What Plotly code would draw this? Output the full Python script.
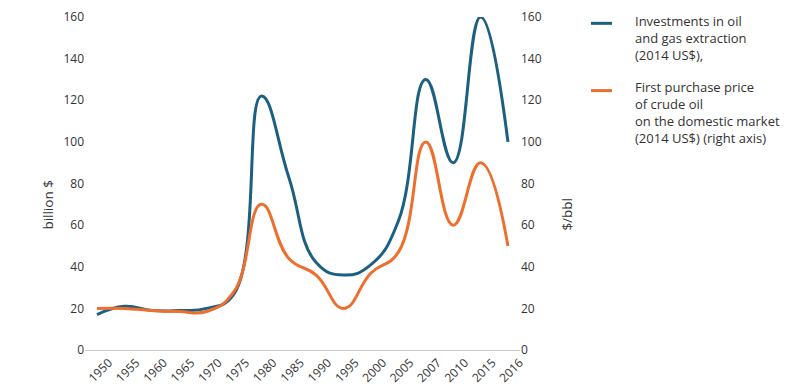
import plotly.graph_objects as go

years = ["1950", "1955", "1960", "1965", "1970", "1975", "1980", "1985",
         "1990", "1995", "2000", "2005", "2007", "2010", "2015", "2016"]
investments = [17, 21, 19, 19, 20, 27, 122, 83, 42, 36, 41, 62, 130, 90, 160, 100]
price = [20, 20, 19, 18.5, 18.5, 28, 70, 44, 36, 20, 37, 47, 100, 60, 90, 50]

y_ticks = [0, 20, 40, 60, 80, 100, 120, 140, 160]

legend_blue = ["Investments in oil", "and gas extraction", "(2014 US$),"]
legend_orange = ["First purchase price", "of crude oil",
                 "on the domestic market", "(2014 US$) (right axis)"]
title_left = "billion $"
title_right = "$/bbl"

BLUE = "#1c5f80"
ORANGE = "#ee6f2d"
TXT = "#333333"
FONT = "Open Sans"

xs = list(range(len(years)))
label_shift = 0.43

fig = go.Figure()
fig.add_trace(go.Scatter(
    x=xs, y=investments, mode="lines",
    line=dict(color=BLUE, width=3, shape="spline", smoothing=1.3),
    name="Investments", yaxis="y"))
fig.add_trace(go.Scatter(
    x=xs, y=price, mode="lines",
    line=dict(color=ORANGE, width=3, shape="spline", smoothing=1.3),
    name="Price", yaxis="y2"))

# manual legend (paper coordinates)
leg_x0, leg_x1, leg_tx = 1.1632, 1.2115, 1.2598
for lines, col, sym_y, text_y in [(legend_blue, BLUE, 0.981, 0.9357),
                                  (legend_orange, ORANGE, 0.779, 0.7138)]:
    fig.add_shape(type="line", xref="paper", yref="paper",
                  x0=leg_x0, x1=leg_x1, y0=sym_y, y1=sym_y,
                  line=dict(color=col, width=3))
    fig.add_annotation(xref="paper", yref="paper", x=leg_tx, y=text_y,
                       xanchor="left", yanchor="middle", align="left",
                       showarrow=False, text="<br>".join(lines),
                       font=dict(family=FONT, size=13, color=TXT))

# axis titles
for txt, px in [(title_left, -0.0839), (title_right, 1.108)]:
    fig.add_annotation(xref="paper", yref="paper", x=px, y=0.354,
                       xanchor="center", yanchor="bottom", textangle=-90,
                       showarrow=False, text=txt,
                       font=dict(family=FONT, size=13.5, color=TXT))

fig.update_layout(
    width=803, height=392,
    margin=dict(l=85, r=283, t=17, b=42),
    paper_bgcolor="white", plot_bgcolor="white",
    font=dict(family=FONT, size=12, color=TXT),
    showlegend=False,
    xaxis=dict(range=[-0.44, 15.44], tickmode="array",
               tickvals=[i + label_shift for i in xs], ticktext=years,
               tickangle=-45, showgrid=False, zeroline=False,
               showline=True, linecolor="#c8c8c8", linewidth=1,
               ticks="", automargin=False,
               tickfont=dict(size=12, color=TXT)),
    yaxis=dict(range=[0, 160], tickvals=y_ticks, showgrid=False,
               zeroline=False, showline=False, ticks="", automargin=False,
               tickfont=dict(size=12, color=TXT)),
    yaxis2=dict(range=[0, 160], tickvals=y_ticks, overlaying="y", side="right",
                showgrid=False, zeroline=False, showline=False, ticks="",
                automargin=False, tickfont=dict(size=12, color=TXT)),
)

fig.write_html("out.html", config={"displayModeBar": False},
               post_script="document.body.style.margin='0';")
